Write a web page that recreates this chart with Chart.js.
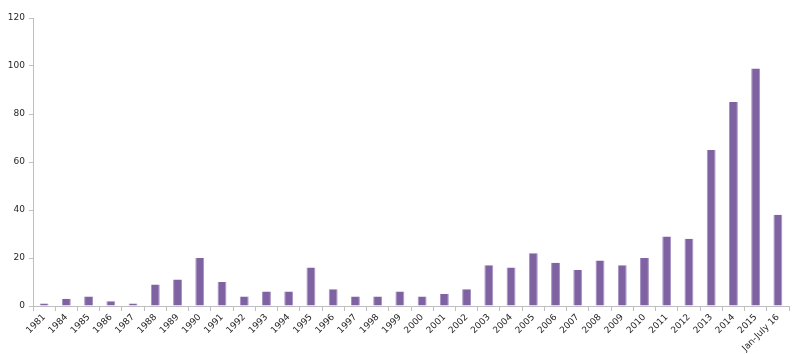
<!DOCTYPE html>
<html>
<head>
<meta charset="utf-8">
<script src="https://cdn.jsdelivr.net/npm/chart.js@4/dist/chart.umd.min.js"></script>
<style>
html,body{margin:0;padding:0;background:#fff;}
#wrap{width:800px;height:354px;position:relative;}
</style>
</head>
<body>
<div id="wrap"><canvas id="c" width="800" height="354"></canvas></div>
<script>
const categories = ["1981","1984","1985","1986","1987","1988","1989","1990","1991","1992","1993","1994","1995","1996","1997","1998","1999","2000","2001","2002","2003","2004","2005","2006","2007","2008","2009","2010","2011","2012","2013","2014","2015","Jan-July 16"];
const values = [1,3,4,2,1,9,11,20,10,4,6,6,16,7,4,4,6,4,5,7,17,16,22,18,15,19,17,20,29,28,65,85,99,38];
const yTicks = [0,20,40,60,80,100,120];

const font = {family: "'DejaVu Sans', sans-serif", size: 9};
new Chart(document.getElementById('c'), {
  type: 'bar',
  data: {
    labels: categories,
    datasets: [{
      data: values,
      backgroundColor: '#7F62A1',
      borderColor: '#A48FC2',
      borderWidth: {left:1,right:1,top:0,bottom:0},
      barPercentage: 0.8,
      categoryPercentage: 0.5
    }]
  },
  options: {
    responsive: false,
    animation: false,
    devicePixelRatio: 1,
    layout: {padding: {top: 18, right: 11, left: 0, bottom: 0}},
    plugins: {legend: {display: false}, tooltip: {enabled: false}},
    scales: {
      x: {
        grid: {display: true, drawOnChartArea: false, drawTicks: true, tickLength: 5, color: '#BFBFBF', offset: true},
        border: {display: true, color: '#BFBFBF', width: 1},
        ticks: {color: '#262626', font: font, minRotation: 45, maxRotation: 45, autoSkip: false, padding: 1},
        afterFit: s => { s.height = 48; }
      },
      y: {
        min: 0, max: 120,
        afterBuildTicks: s => { s.ticks = yTicks.map(v => ({value: v})); },
        grid: {display: true, drawOnChartArea: false, drawTicks: true, tickLength: 4, color: '#BFBFBF'},
        border: {display: true, color: '#BFBFBF', width: 1},
        ticks: {color: '#262626', font: font, padding: 4},
        afterFit: s => { s.width = 33; }
      }
    }
  }
});
</script>
</body>
</html>
